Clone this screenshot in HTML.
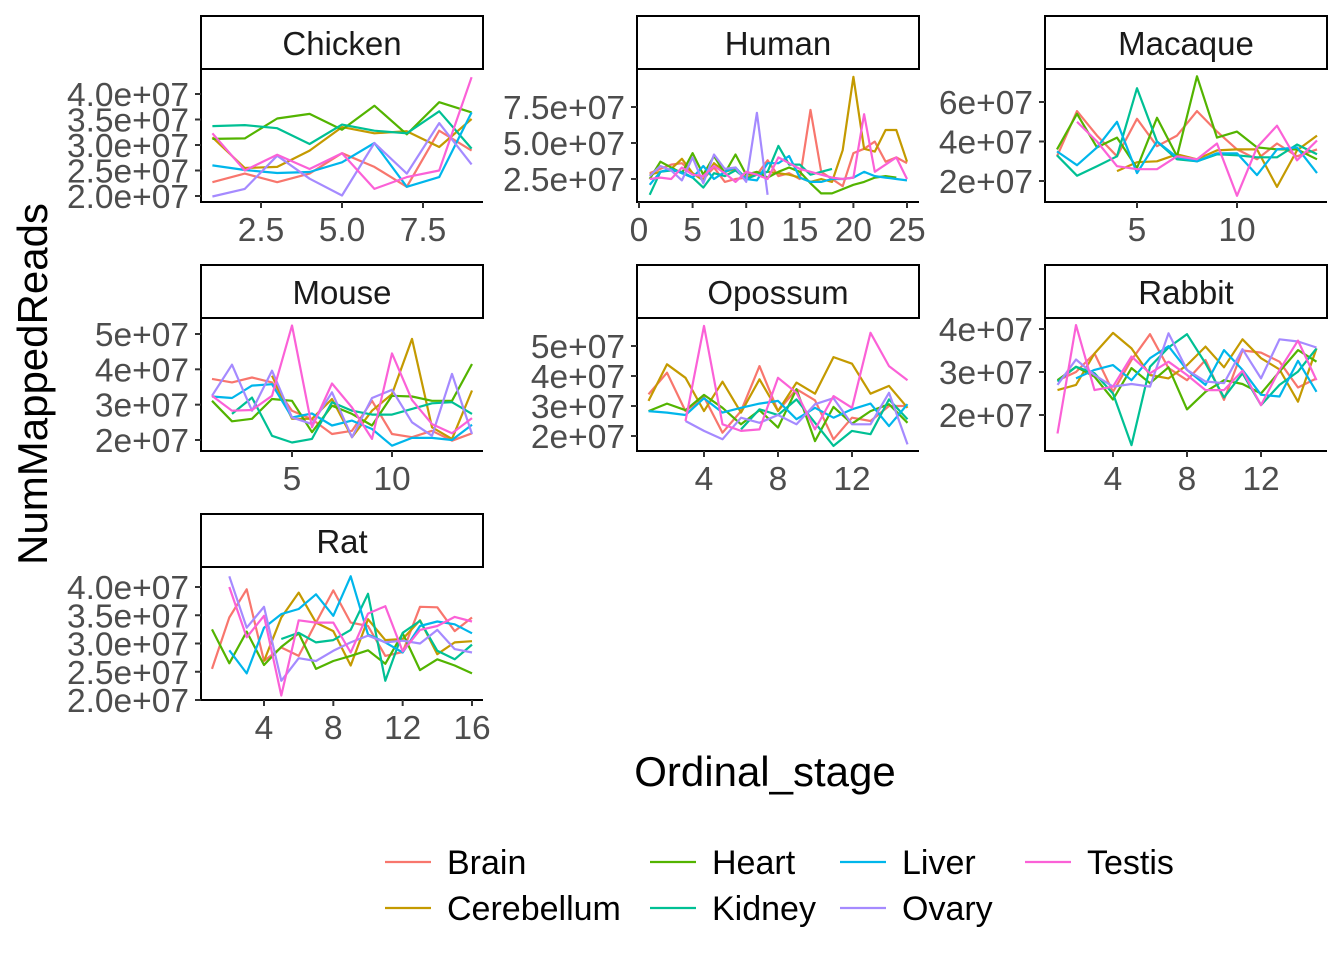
<!DOCTYPE html>
<html><head><meta charset="utf-8"><style>
body{margin:0;background:#fff;}
svg{display:block;font-family:"Liberation Sans",sans-serif;}
</style></head><body>
<svg id="chart" width="1344" height="960"></svg>
<script>
const seriesNames = ["Brain","Cerebellum","Heart","Kidney","Liver","Ovary","Testis"];
const seriesColors = ["#F8766D","#C49A00","#53B400","#00C094","#00B6EB","#A58AFF","#FB61D7"];
const N = null;
const chickenData = {
Brain:[2.27,2.44,2.27,2.44,2.84,2.57,2.18,3.28,2.89],
Cerebellum:[3.15,2.55,2.57,2.89,3.35,3.23,3.27,2.96,3.51],
Heart:[3.12,3.13,3.52,3.61,3.30,3.77,3.21,3.84,3.64],
Kidney:[3.37,3.39,3.33,3.02,3.40,3.28,3.23,3.66,2.93],
Liver:[2.60,2.51,2.45,2.47,2.66,3.04,2.18,2.37,3.64],
Ovary:[1.99,2.14,2.79,2.34,2.01,3.04,2.44,3.43,2.62],
Testis:[3.23,2.50,2.81,2.53,2.84,2.14,2.37,2.50,4.33]};
const humanData = {
Brain:[2.9,3.2,3.5,3.6,2.9,2.5,3.3,2.3,2.5,2.6,2.8,3.8,2.7,2.9,2.5,7.3,3.0,2.5,2.0,4.3,4.6,5.1,3.7,4.0,3.6],
Cerebellum:[2.8,3.0,3.2,3.9,2.9,2.4,3.6,3.0,3.2,2.6,2.9,3.0,2.9,2.8,2.6,2.3,2.5,2.3,4.5,9.6,4.6,4.4,5.9,5.9,3.7],
Heart:[2.5,3.7,3.3,2.9,4.3,2.8,4.1,2.9,4.2,2.8,3.0,2.6,3.0,3.3,3.0,2.2,1.5,1.5,1.8,2.1,2.3,2.6,2.7,2.6,N],
Kidney:[1.4,3.0,3.1,3.0,2.6,1.9,2.9,2.7,3.1,2.5,2.8,3.0,4.8,3.5,3.5,2.8,3.0,3.2,N,N,N,N,N,N,N],
Liver:[2.1,3.0,3.2,2.9,2.6,3.4,2.5,3.0,3.3,2.5,2.4,3.6,3.6,4.1,2.6,2.3,2.3,2.5,2.5,2.6,3.0,2.7,2.6,2.5,2.4],
Ovary:[2.7,3.4,3.1,2.4,4.0,2.2,4.2,3.2,3.3,2.3,7.1,1.4,N,N,N,N,N,N,N,N,N,N,N,N,N],
Testis:[2.5,2.6,2.5,3.3,2.8,2.7,3.4,2.9,2.3,3.0,2.8,2.5,4.0,3.6,3.2,3.0,2.8,2.6,2.5,2.6,7.0,3.0,3.5,4.0,2.5]};
const macaqueData = {
Brain:[3.25,5.54,4.3,3.25,5.15,3.76,4.3,5.54,4.5,3.6,3.1,3.9,3.25,3.6],
Cerebellum:[N,N,N,2.5,2.95,3.0,3.35,3.1,3.55,3.6,3.6,1.7,3.55,4.3],
Heart:[3.6,5.4,3.7,4.2,2.66,5.2,3.25,7.3,4.2,4.5,3.7,3.6,3.6,3.1],
Kidney:[3.3,2.27,2.75,3.25,6.7,4.0,3.1,3.0,3.35,3.3,3.2,3.2,3.85,3.35],
Liver:[3.5,2.8,3.7,5.0,2.4,4.0,3.2,3.0,3.4,3.4,2.3,3.6,3.7,2.4],
Ovary:[N,N,N,N,N,N,N,N,N,N,N,N,N,N],
Testis:[N,5.0,4.0,2.75,2.6,2.6,3.25,3.1,3.9,1.25,3.7,4.8,3.05,4.05]};
const mouseData = {
Brain:[3.73,3.63,3.77,3.63,2.83,2.59,2.17,2.26,3.11,2.17,2.08,2.26,1.98,2.19],
Cerebellum:[N,N,N,3.82,2.6,2.6,3.16,2.08,2.83,3.3,4.86,2.36,2.03,3.4],
Heart:[3.11,2.53,2.6,3.16,3.11,2.22,2.97,2.74,2.41,3.25,3.23,3.11,3.11,4.15],
Kidney:[N,2.74,3.2,2.12,1.93,2.03,3.07,2.83,2.72,2.72,2.88,3.04,3.07,2.74],
Liver:[3.23,3.19,3.54,3.58,2.64,2.75,2.41,2.55,2.31,1.84,2.06,2.06,2.0,2.43],
Ovary:[3.25,4.13,2.83,3.96,2.64,2.45,3.35,2.08,3.19,3.42,2.5,2.12,3.87,2.17],
Testis:[3.25,2.83,2.85,3.25,5.24,2.36,3.6,2.92,2.03,4.45,3.13,2.45,2.19,2.62]};
const opossumData = {
Brain:[3.39,4.11,2.83,3.3,2.11,2.83,4.33,2.83,3.56,3.19,1.89,2.61,2.5,3.0,3.0],
Cerebellum:[3.17,4.39,3.94,2.83,3.81,2.78,3.89,2.83,3.78,3.41,4.63,4.41,3.41,3.67,2.94],
Heart:[2.83,3.08,2.86,3.37,2.94,2.39,2.86,2.28,3.56,1.83,2.97,2.41,2.83,3.06,2.44],
Kidney:[N,N,N,N,N,2.22,2.89,2.7,3.22,2.44,1.67,2.17,2.06,3.22,2.56],
Liver:[2.83,2.78,2.7,3.26,2.78,2.94,3.08,3.17,2.56,2.94,2.61,2.89,3.08,2.33,3.06],
Ovary:[N,N,2.5,2.17,1.89,2.61,2.44,2.7,2.39,3.06,3.26,2.39,2.39,3.44,1.72],
Testis:[N,N,2.5,5.67,2.39,2.17,2.22,3.94,3.44,2.22,3.33,2.94,5.44,4.33,3.86]};
const rabbitData = {
Brain:[2.8,3.0,3.43,2.54,3.28,3.88,3.09,2.81,3.28,2.35,3.5,3.45,3.24,2.64,2.85],
Cerebellum:[2.58,2.7,3.43,3.91,3.55,2.93,2.85,3.16,3.59,3.11,3.76,3.32,3.06,2.31,3.55],
Heart:[2.81,3.12,2.89,2.36,3.09,2.74,3.11,2.13,2.54,2.81,2.72,2.5,3.01,3.51,3.24],
Kidney:[2.78,3.12,2.97,2.5,1.3,3.12,3.57,3.88,3.2,2.41,2.97,2.23,2.7,3.01,3.55],
Liver:[N,2.85,3.05,3.16,2.81,3.32,3.6,3.05,2.7,3.51,3.05,2.47,2.43,3.26,2.54],
Ovary:[2.7,3.29,2.93,2.66,2.72,2.66,3.9,3.05,2.78,2.74,3.53,2.85,3.76,3.71,3.57],
Testis:[1.57,4.09,2.58,2.66,3.36,2.97,3.24,2.93,2.58,2.58,3.03,2.23,3.05,3.73,2.81]};
const ratData = {
Brain:[2.55,3.46,3.96,2.69,2.93,2.78,3.37,3.94,3.37,3.31,2.78,2.85,3.65,3.64,3.22,3.46],
Cerebellum:[N,N,N,2.69,3.46,3.9,3.37,3.22,2.61,3.43,3.06,3.08,3.41,2.81,3.02,3.04],
Heart:[3.25,2.65,3.21,2.62,2.94,3.18,2.55,2.69,2.78,2.88,2.64,3.18,2.53,2.72,2.61,2.47],
Kidney:[N,N,N,N,3.08,3.19,3.02,3.06,3.24,3.88,2.34,3.19,3.4,2.87,2.72,2.98],
Liver:[N,2.88,2.47,3.28,3.52,3.61,3.87,3.49,4.19,3.16,3.02,2.84,3.31,3.39,3.34,3.18],
Ovary:[N,4.19,3.28,3.65,2.34,2.74,2.69,2.87,3.02,3.14,3.02,3.05,3.0,3.24,2.9,2.84],
Testis:[N,4.0,3.11,3.49,2.08,3.41,3.37,3.37,2.84,3.53,3.66,2.86,3.24,3.31,3.47,3.39]};
const xTicksChicken = ["2.5","5.0","7.5"], yTicksChicken = ["2.0e+07","2.5e+07","3.0e+07","3.5e+07","4.0e+07"];
const xTicksHuman = ["0","5","10","15","20","25"], yTicksHuman = ["2.5e+07","5.0e+07","7.5e+07"];
const xTicksMacaque = ["5","10"], yTicksMacaque = ["2e+07","4e+07","6e+07"];
const xTicksMouse = ["5","10"], yTicksMouse = ["2e+07","3e+07","4e+07","5e+07"];
const xTicksOpossum = ["4","8","12"], yTicksOpossum = ["2e+07","3e+07","4e+07","5e+07"];
const xTicksRabbit = ["4","8","12"], yTicksRabbit = ["2e+07","3e+07","4e+07"];
const xTicksRat = ["4","8","12","16"], yTicksRat = ["2.0e+07","2.5e+07","3.0e+07","3.5e+07","4.0e+07"];

const panels = [
 {name:"Chicken",data:chickenData,xt:xTicksChicken,yt:yTicksChicken,L:201,R:483,T:69,B:202,xa:[2.5,261],xb:[7.5,423],ya:[2,196],yb:[4,94]},
 {name:"Human",data:humanData,xt:xTicksHuman,yt:yTicksHuman,L:637,R:919,T:69,B:202,xa:[0,639],xb:[25,907],ya:[2.5,179],yb:[7.5,107]},
 {name:"Macaque",data:macaqueData,xt:xTicksMacaque,yt:yTicksMacaque,L:1045,R:1327,T:69,B:202,xa:[5,1137],xb:[10,1237],ya:[2,181],yb:[6,102]},
 {name:"Mouse",data:mouseData,xt:xTicksMouse,yt:yTicksMouse,L:201,R:483,T:318,B:451,xa:[5,292],xb:[10,392],ya:[2,440],yb:[5,334]},
 {name:"Opossum",data:opossumData,xt:xTicksOpossum,yt:yTicksOpossum,L:637,R:919,T:318,B:451,xa:[4,704],xb:[12,852],ya:[2,436],yb:[5,346]},
 {name:"Rabbit",data:rabbitData,xt:xTicksRabbit,yt:yTicksRabbit,L:1045,R:1327,T:318,B:451,xa:[4,1113],xb:[12,1261],ya:[2,415],yb:[4,329]},
 {name:"Rat",data:ratData,xt:xTicksRat,yt:yTicksRat,L:201,R:483,T:567,B:700,xa:[4,264],xb:[16,472],ya:[2,700],yb:[4,587]}
];
const NS="http://www.w3.org/2000/svg";
const svg=document.getElementById('chart');
function mk(tag,attrs,parent){const e=document.createElementNS(NS,tag);for(const k in attrs)e.setAttribute(k,attrs[k]);(parent||svg).appendChild(e);return e;}
function lin(a,b){return v=>a[1]+(v-a[0])*(b[1]-a[1])/(b[0]-a[0]);}
panels.forEach(p=>{
 const g=mk('g',{});
 
 
 const xs=lin(p.xa,p.xb), ys=lin(p.ya,p.yb);
 const strip=mk('rect',{x:p.L,y:p.T-53,width:p.R-p.L,height:53,fill:'#fff',stroke:'#000','stroke-width':2},g);
 
 
 const st=mk('text',{x:(p.L+p.R)/2,y:p.T-14,'text-anchor':'middle','font-size':33,fill:'#1a1a1a'},g);
 st.textContent=p.name;
 
 
 const lines=mk('g',{},g);
 seriesNames.forEach((s,si)=>{
  const arr=p.data[s];let segs=[],cur=[];
  arr.forEach((v,i)=>{if(v===null){if(cur.length)segs.push(cur);cur=[];}else cur.push(xs(i+1).toFixed(1)+','+ys(v).toFixed(1));});
  if(cur.length)segs.push(cur);
  segs.forEach(c=>{if(c.length<2)return;
   const pl=mk('polyline',{points:c.join(' '),fill:'none',stroke:seriesColors[si],'stroke-width':2.2,'stroke-linejoin':'round'},lines);
   
   
  });
 });
 mk('line',{x1:p.L,y1:p.T,x2:p.L,y2:p.B+1,stroke:'#000','stroke-width':2},g);
 mk('line',{x1:p.L-1,y1:p.B,x2:p.R,y2:p.B,stroke:'#000','stroke-width':2},g);
 p.xt.forEach(t=>{const x=xs(parseFloat(t));
  mk('line',{x1:x,y1:p.B,x2:x,y2:p.B+6,stroke:'#333','stroke-width':2},g);
  const tx=mk('text',{x:x,y:p.B+39,'text-anchor':'middle','font-size':33.5,fill:'#4d4d4d'},g);tx.textContent=t;
  
  });
 p.yt.forEach(t=>{const y=ys(parseFloat(t)/1e7);
  mk('line',{x1:p.L-6,y1:y,x2:p.L,y2:y,stroke:'#333','stroke-width':2},g);
  const tx=mk('text',{x:p.L-12,y:y+12,'text-anchor':'end','font-size':33.5,fill:'#4d4d4d'},g);tx.textContent=t;
  
  });
});
const xt=mk('text',{x:765,y:786,'text-anchor':'middle','font-size':42,fill:'#000'});xt.textContent='Ordinal_stage';


const yt=mk('text',{x:0,y:0,'text-anchor':'middle','font-size':42,fill:'#000',transform:'translate(47,384) rotate(-90)'});yt.textContent='NumMappedReads';


const legendPos=[[385,862],[385,908],[650,862],[650,908],[840,862],[840,908],[1025,862]];
seriesNames.forEach((s,i)=>{const [x,y]=legendPos[i];
 const lg=mk('g',{});
 
 
 mk('line',{x1:x,y1:y,x2:x+46,y2:y,stroke:seriesColors[i],'stroke-width':2.2},lg);
 const t=mk('text',{x:x+62,y:y+12,'font-size':34,fill:'#000'},lg);t.textContent=s;});
</script>
</body></html>
